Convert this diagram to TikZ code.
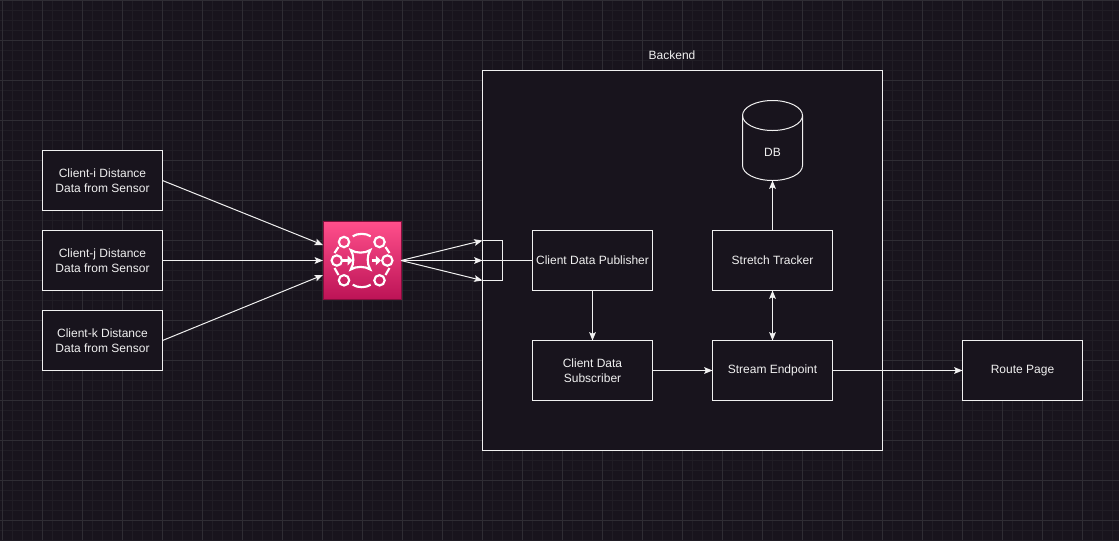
\documentclass[tikz,border=0pt]{standalone}
\usepackage{fontspec}
\setmainfont{Liberation Sans}
\usetikzlibrary{arrows.meta}
\definecolor{bgc}{HTML}{18141D}
\definecolor{gridminor}{HTML}{201D25}
\definecolor{gridmajor}{HTML}{2F2D34}
\definecolor{ink}{HTML}{F0F0F0}
\definecolor{icontop}{HTML}{FF4F8B}
\definecolor{iconbot}{HTML}{BC1356}
\tikzset{
  every node/.style={font=\fontsize{9}{11.25}\selectfont, text=ink, align=center, inner sep=0pt, outer sep=0pt},
  boxnode/.style={draw=ink, fill=bgc, line width=0.75pt, minimum width=90pt, minimum height=45pt},
  link/.style={draw=ink, line width=0.75pt, -{Stealth[length=6.2pt,width=5pt,inset=1.2pt]}},
  plainlink/.style={draw=ink, line width=0.75pt},
  twolink/.style={draw=ink, line width=0.75pt, {Stealth[length=6.2pt,width=5pt,inset=1.2pt]}-{Stealth[length=6.2pt,width=5pt,inset=1.2pt]}},
  iconline/.style={draw=white, line width=1.6pt},
  iconhead/.style={fill=white, draw=none},
}
\begin{document}
\begin{tikzpicture}[x=0.75pt,y=-0.75pt]
\fill[bgc] (0,0) rectangle (1119,540);
\useasboundingbox (0,0) rectangle (1119,540);
% grid
\foreach \i in {0,...,111} {\draw[gridminor,line width=1pt] ({\i*10+2.5},0) -- ({\i*10+2.5},540);}
\foreach \j in {0,...,54} {\draw[gridminor,line width=1pt] (0,{\j*10+0.5}) -- (1119,{\j*10+0.5});}
\foreach \i in {0,...,27} {\draw[gridmajor,line width=0.75pt] ({\i*40+2.5},0) -- ({\i*40+2.5},540);}
\foreach \j in {0,...,13} {\draw[gridmajor,line width=0.75pt] (0,{\j*40+0.5}) -- (1119,{\j*40+0.5});}
% backend
\node[draw=ink, fill=bgc, line width=0.75pt, minimum width=300pt, minimum height=285pt] (backend) at (682.5,260.5) {};
\node (backendlabel) at (672,55) {Backend};
% boxes
\node[boxnode] (ci) at (102.5,180.5) {Client-i Distance\\Data from Sensor};
\node[boxnode] (cj) at (102.5,260.5) {Client-j Distance\\Data from Sensor};
\node[boxnode] (ck) at (102.5,340.5) {Client-k Distance\\Data from Sensor};
\node[boxnode] (pub) at (592.5,260.5) {Client Data Publisher};
\node[boxnode] (sub) at (592.5,370.5) {Client Data\\Subscriber};
\node[boxnode] (stream) at (772.5,370.5) {Stream Endpoint};
\node[boxnode] (tracker) at (772.5,260.5) {Stretch Tracker};
\node[boxnode] (route) at (1022.5,370.5) {Route Page};
% DB cylinder
\draw[draw=ink, fill=bgc, line width=0.75pt]
  (742.5,115.5) .. controls (742.5,107.2) and (755.9,100.5) .. (772.5,100.5)
  .. controls (789.1,100.5) and (802.5,107.2) .. (802.5,115.5)
  -- (802.5,165.5) .. controls (802.5,173.8) and (789.1,180.5) .. (772.5,180.5)
  .. controls (755.9,180.5) and (742.5,173.8) .. (742.5,165.5) -- cycle;
\draw[draw=ink, line width=0.75pt]
  (742.5,115.5) .. controls (742.5,123.8) and (755.9,130.5) .. (772.5,130.5)
  .. controls (789.1,130.5) and (802.5,123.8) .. (802.5,115.5);
\node[minimum width=45pt, minimum height=60pt] (dbshape) at (772.5,140.5) {};
\node (dblabel) at (772.5,152.5) {DB};
% icon
\node[top color=icontop, bottom color=iconbot, draw=iconbot!70!black, line width=0.75pt, minimum width=58.5pt, minimum height=58.5pt] (icon) at (362,260.5) {};
\foreach \cx/\cy in {344/242,379.5/242,336.8/260.5,387.3/260.5,344/280.3,379.5/280.3}
  \draw[iconline] (\cx,\cy) circle[radius=5.2];
% rim arcs
\draw[iconline] (352.7,236.3) .. controls (357.5,233) and (366,233) .. (370.7,236.3);
\draw[iconline] (352.7,284.7) .. controls (357.5,288) and (366,288) .. (370.7,284.7);
\draw[iconline] (334.5,253) -- (338.5,247);
\draw[iconline] (389.5,253) -- (385.5,247);
\draw[iconline] (334.5,268) -- (338.5,275);
\draw[iconline] (389.5,268) -- (385.5,275);
% centre star
\draw[iconline, line join=miter] (350.7,250) .. controls (356,253.5) and (365,253.5) .. (370.3,250)
  .. controls (366.8,255.5) and (366.8,264) .. (370.3,269.5)
  .. controls (365,266) and (356,266) .. (350.7,269.5)
  .. controls (354.2,264) and (354.2,255.5) .. (350.7,250) -- cycle;
% icon arrows
\draw[iconline] (342,260.5) -- (349,260.5);
\fill[iconhead] (347.7,255.7) -- (352.6,260.5) -- (347.7,265.3) -- cycle;
\draw[iconline] (371.5,260.5) -- (377,260.5);
\fill[iconhead] (375.8,255.7) -- (381,260.5) -- (375.8,265.3) -- cycle;
% connector endpoints
\coordinate (icon-in-i) at (323,245);
\coordinate (icon-in-k) at (323,275);
\coordinate (t1) at (482.5,240.5);
\coordinate (t2) at (482.5,260.5);
\coordinate (t3) at (482.5,280.5);
\coordinate (b1) at (502.5,240.5);
\coordinate (b3) at (502.5,280.5);
% connectors
\draw[link] (ci.east) -- (icon-in-i);
\draw[link] (cj.east) -- (icon.west);
\draw[link] (ck.east) -- (icon-in-k);
\draw[link] (icon.east) -- (t1);
\draw[link] (icon.east) -- (t2);
\draw[link] (icon.east) -- (t3);
\draw[plainlink] (pub.west) -- (t2);
\draw[plainlink] (t1) -- (b1) -- (b3) -- (t3);
\draw[link] (pub.south) -- (sub.north);
\draw[link] (sub.east) -- (stream.west);
\draw[twolink] (stream.north) -- (tracker.south);
\draw[link] (tracker.north) -- (dbshape.south);
\draw[link] (stream.east) -- (route.west);
\end{tikzpicture}
\end{document}
